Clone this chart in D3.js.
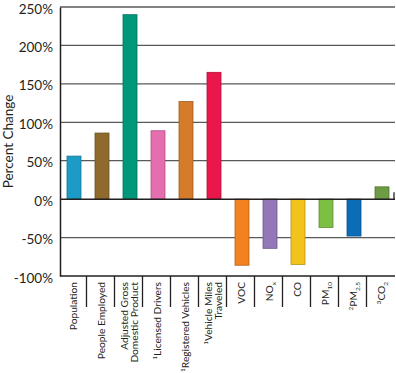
<!DOCTYPE html>
<html>
<head>
<meta charset="utf-8">
<script src="https://cdn.jsdelivr.net/npm/d3@7"></script>
<style>
  body { margin: 0; background: #fff; }
  svg text { font-family: Lato, "Open Sans", sans-serif; fill: #231f20; }
</style>
</head>
<body>
<div class="panel"></div>
<script>

const categories = ["Population", "People Employed", "Adjusted Gross Domestic Product", "Licensed Drivers",
    "Registered Vehicles", "Vehicle Miles Traveled", "VOC", "NOx", "CO", "PM10", "PM2.5", "CO2"];

const values = [56, 86, 240, 89, 127, 165, -86, -64, -85, -37, -48, 16];

const colors = ["#1c9bc6", "#8e6b2d", "#00977a", "#e56fae", "#d47b2c", "#e9174c",
    "#f1821f", "#9377b7", "#f2c31a", "#7cbf42", "#0b6db6", "#6d9c45"];

// label lines, segments: [text, "sup" | "sub" | ""]
const labelLines = [
    [[["Population", ""]]],
    [[["People Employed", ""]]],
    [[["Adjusted Gross", ""]], [["Domestic Product", ""]]],
    [[["1", "sup"], ["Licensed Drivers", ""]]],
    [[["1", "sup"], ["Registered Vehicles", ""]]],
    [[["1", "sup"], ["Vehicle Miles", ""]], [["Traveled", ""]]],
    [[["VOC", ""]]],
    [[["NO", ""], ["x", "sub"]]],
    [[["CO", ""]]],
    [[["PM", ""], ["10", "sub"]]],
    [[["2", "sup"], ["PM", ""], ["2.5", "sub"]]],
    [[["3", "sup"], ["CO", ""], ["2", "sub"]]]
];

const yTicks = [-100, -50, 0, 50, 100, 150, 200, 250];

const dim = { width: 396, height: 373 };
const margin = { left: 60, right: 0, top: 7, bottom: 97 };

const svg = d3.select(".panel").append("svg")
    .attr("width", dim.width)
    .attr("height", dim.height);

const x = d3.scaleBand()
    .domain(categories)
    .range([margin.left, dim.width])
    .paddingInner(0.5)
    .paddingOuter(0.25);

const y = d3.scaleLinear()
    .domain([-100, 250])
    .range([dim.height - margin.bottom, margin.top]);

// Grid

svg.append("g")
    .selectAll("line")
    .data(yTicks.filter(d => d !== 0 && d !== -100))
    .join("line")
    .attr("x1", margin.left)
    .attr("x2", dim.width - 1)
    .attr("y1", d => y(d))
    .attr("y2", d => y(d))
    .attr("stroke", "#58595b")
    .attr("stroke-width", 1.3);

// Y axis

const yAxis = svg.append("g")
    .attr("transform", `translate(${margin.left},0)`)
    .call(d3.axisLeft(y).tickValues(yTicks).tickSize(0).tickPadding(7).tickFormat(d => d + "%"));

yAxis.select(".domain").attr("stroke", "#231f20").attr("stroke-width", 1.5);
yAxis.selectAll("text")
    .attr("dy", "0.45em")
    .style("font-size", "13.5px")
    .attr("font-family", null);

svg.append("text")
    .attr("transform", `translate(13, ${y(75)}) rotate(-90)`)
    .attr("text-anchor", "middle")
    .style("font-size", "13.5px")
    .text("Percent Change");

// Bars

svg.append("g")
    .selectAll("rect")
    .data(values)
    .join("rect")
    .attr("x", (d, i) => x(categories[i]))
    .attr("width", x.bandwidth())
    .attr("y", d => y(Math.max(0, d)))
    .attr("height", d => Math.abs(y(d) - y(0)))
    .attr("fill", (d, i) => colors[i])
    .attr("stroke", (d, i) => d3.color(colors[i]).darker(0.8))
    .attr("stroke-width", 0.8);

// Zero and bottom lines

svg.append("line")
    .attr("x1", margin.left).attr("x2", dim.width - 1)
    .attr("y1", y(0)).attr("y2", y(0))
    .attr("stroke", "#231f20").attr("stroke-width", 1.5);

svg.append("line")
    .attr("x1", dim.width - 2).attr("x2", dim.width - 2)
    .attr("y1", y(0) - 7).attr("y2", y(0))
    .attr("stroke", "#231f20").attr("stroke-width", 1.3);

svg.append("line")
    .attr("x1", margin.left).attr("x2", dim.width - 1)
    .attr("y1", y(-100)).attr("y2", y(-100))
    .attr("stroke", "#231f20").attr("stroke-width", 1.5);

// Category separators

const step = x.step();
svg.append("g")
    .selectAll("line")
    .data(categories.slice(0, -1))
    .join("line")
    .attr("x1", d => x(d) + x.bandwidth() + (step - x.bandwidth()) / 2 - 1.5)
    .attr("x2", d => x(d) + x.bandwidth() + (step - x.bandwidth()) / 2 - 1.5)
    .attr("y1", y(-100))
    .attr("y2", y(-100) + 31)
    .attr("stroke", "#231f20")
    .attr("stroke-width", 1.3);

// Category labels

const lineGap = 10;
const labels = svg.append("g")
    .selectAll("text")
    .data(labelLines.flatMap((lines, i) => lines.map((segs, j) => ({
        cat: categories[i], segs, j, n: lines.length
    }))))
    .join("text")
    .attr("transform", d => {
        const cx = x(d.cat) + x.bandwidth() / 2 - 1 + (d.j - (d.n - 1) / 2) * lineGap;
        return `translate(${cx + 4}, ${y(-100) + 6}) rotate(-90)`;
    })
    .attr("text-anchor", "end")
    .style("font-size", "10.2px");

labels.each(function(d) {
    const t = d3.select(this);
    let shift = 0;
    d.segs.forEach(([str, kind]) => {
        const target = kind === "sup" ? -4 : kind === "sub" ? 2.5 : 0;
        t.append("tspan")
            .attr("dy", target - shift)
            .style("font-size", kind ? "6.5px" : null)
            .text(str);
        shift = target;
    });
});

</script>
</body>
</html>
